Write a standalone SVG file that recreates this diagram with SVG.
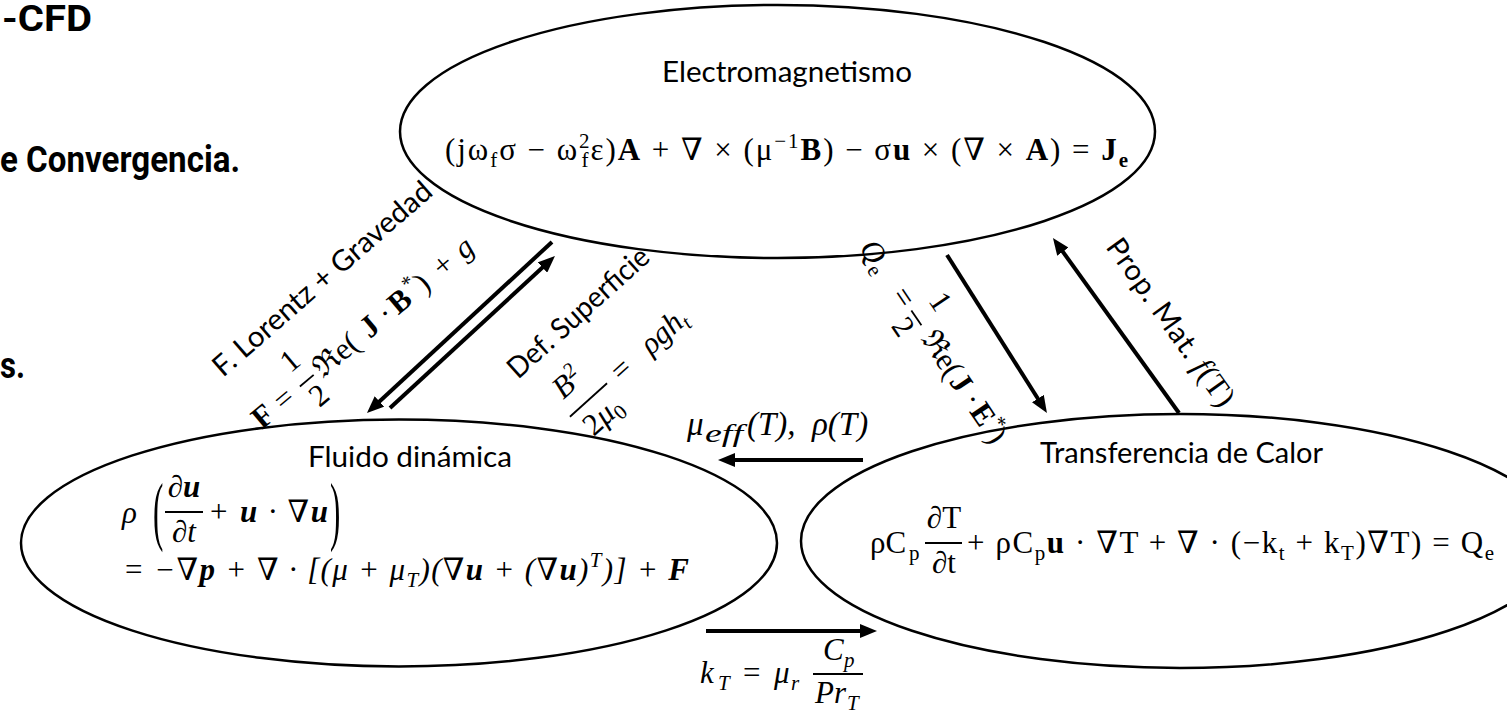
<svg xmlns="http://www.w3.org/2000/svg" width="1507" height="714" viewBox="0 0 1507 714">
<style>
.ell{fill:none;stroke:#000;stroke-width:2.5}
.lbl{font-family:Lato,"Open Sans","Liberation Sans",sans-serif;font-size:29px;fill:#000}
.hd{font-family:"Liberation Sans Narrow","Roboto","Liberation Sans",sans-serif;font-weight:bold;font-size:37px;fill:#000}
.m{font-family:"Liberation Serif","DejaVu Serif",serif;font-size:31px;fill:#000}
.mi{font-style:italic}
.b{font-weight:bold}
.s{font-size:21px}
.bar{stroke:#000;stroke-width:1.8}
.arr{stroke:#000;stroke-width:4;fill:none;marker-end:url(#ah)}
</style>
<defs>
<marker id="ah" viewBox="0 0 17 14" refX="7" refY="7" markerWidth="17" markerHeight="14" markerUnits="userSpaceOnUse" orient="auto"><path d="M0,0L17,7L0,14z" fill="#000"/></marker>
</defs>

<g id="background-text">
<text class="hd" x="2" y="31" textLength="90" lengthAdjust="spacingAndGlyphs">-CFD</text>
<text class="hd" x="0" y="172" textLength="240" lengthAdjust="spacingAndGlyphs">e Convergencia.</text>
<text class="hd" x="0" y="378" textLength="25" lengthAdjust="spacingAndGlyphs">s.</text>
</g>

<g id="electromagnetismo">
<ellipse class="ell" cx="777.5" cy="131.5" rx="377.5" ry="126.5"/>
<text class="lbl" x="662" y="82" textLength="250" lengthAdjust="spacingAndGlyphs">Electromagnetismo</text>
<text class="m" x="445" y="160" textLength="683">(jω<tspan class="s" dy="7">f</tspan><tspan dy="-7">σ − ω</tspan><tspan class="s" dy="-12">2</tspan><tspan class="s" dx="-10" dy="19">f</tspan><tspan dy="-7">ε)</tspan><tspan class="b">A</tspan> + <tspan class="mi">∇</tspan> × (μ<tspan class="s" dy="-12">−1</tspan><tspan class="b" dy="12">B</tspan>) − σ<tspan class="b">u</tspan> × (<tspan class="mi">∇</tspan> × <tspan class="b">A</tspan>) = <tspan class="b">J</tspan><tspan class="b s" dy="7">e</tspan></text>
</g>

<g id="fluido">
<ellipse class="ell" cx="399" cy="543" rx="378" ry="123.5"/>
<text class="lbl" x="308" y="467" textLength="204" lengthAdjust="spacingAndGlyphs">Fluido dinámica</text>
<text class="m mi" x="122" y="523">ρ</text>
<text class="m" transform="translate(153,536) scale(1,2.45)" font-size="38">(</text>
<text class="m mi" x="184" y="497" text-anchor="middle">∂<tspan class="b">u</tspan></text>
<line class="bar" x1="165" y1="512" x2="203" y2="512"/>
<text class="m mi" x="184" y="542" text-anchor="middle">∂t</text>
<text class="m mi" x="208" y="522" textLength="120">+ <tspan class="b">u</tspan> · ∇<tspan class="b">u</tspan></text>
<text class="m" transform="translate(330,536) scale(1,2.45)" font-size="38">)</text>
<text class="m mi" x="123" y="580" textLength="566">= −∇<tspan class="b">p</tspan> + ∇ · [(μ + μ<tspan class="s" dy="7">T</tspan><tspan dy="-7">)(∇</tspan><tspan class="b">u</tspan> + (∇<tspan class="b">u</tspan>)<tspan class="s" dy="-13">T</tspan><tspan dy="13">)] + </tspan><tspan class="b">F</tspan></text>
</g>

<g id="calor">
<ellipse class="ell" cx="1180" cy="541" rx="379" ry="127"/>
<text class="lbl" x="1040" y="463" textLength="283" lengthAdjust="spacingAndGlyphs">Transferencia de Calor</text>
<text class="m" y="553"><tspan x="870">ρC</tspan><tspan class="s" x="909" dy="7">p</tspan></text>
<text class="m" x="944" y="528" text-anchor="middle"><tspan class="mi">∂</tspan>T</text>
<line class="bar" x1="925" y1="543" x2="962" y2="543"/>
<text class="m" x="944" y="573" text-anchor="middle"><tspan class="mi">∂</tspan>t</text>
<text class="m" x="967" y="553" textLength="527">+ ρC<tspan class="s" dy="7">p</tspan><tspan class="b" dy="-7">u</tspan> · <tspan class="mi">∇</tspan>T + <tspan class="mi">∇</tspan> · (−k<tspan class="s" dy="7">t</tspan><tspan dy="-7"> + k</tspan><tspan class="s" dy="7">T</tspan><tspan dy="-7">)</tspan><tspan class="mi">∇</tspan>T) = Q<tspan class="s" dy="7">e</tspan></text>
</g>

<g id="connectors">
<line class="arr" x1="552" y1="242" x2="374.3" y2="406.2"/>
<line class="arr" x1="390" y1="408" x2="547.6" y2="262.8"/>
<line class="arr" x1="947" y1="255" x2="1041.6" y2="404.5"/>
<line class="arr" x1="1179" y1="413" x2="1058.8" y2="246.1"/>
<line class="arr" x1="863" y1="460" x2="728" y2="460"/>
<line class="arr" x1="706" y1="631" x2="867" y2="631"/>
</g>

<g id="label-lorentz">
<text class="lbl" transform="translate(223,378) rotate(-41)" x="0" y="0" textLength="280" lengthAdjust="spacingAndGlyphs">F. Lorentz + Gravedad</text>
<g transform="translate(262,430) rotate(-40)">
<text class="m b" x="0" y="0">F</text>
<text class="m" x="28" y="0">=</text>
<text class="m" x="66" y="-25" text-anchor="middle">1</text>
<line class="bar" x1="57" y1="-9" x2="75" y2="-9"/>
<text class="m" x="66" y="20" text-anchor="middle">2</text>
<text class="m" y="0"><tspan x="80">ℜe(</tspan><tspan x="141" class="b">J</tspan><tspan x="164">·</tspan><tspan x="178" class="b">B</tspan><tspan class="s" x="201" y="-12">*</tspan><tspan x="212" y="0">)</tspan><tspan x="236">+</tspan><tspan x="264" class="mi">g</tspan></text>
</g>
</g>

<g id="label-superficie">
<text class="lbl" transform="translate(518,380) rotate(-42)" x="0" y="0" textLength="180" lengthAdjust="spacingAndGlyphs">Def. Superficie</text>
<g transform="translate(594.5,406.7) rotate(-42)">
<text class="m mi" x="-4" y="-26" text-anchor="middle">B<tspan class="s" dy="-11">2</tspan></text>
<line class="bar" x1="-25" y1="-9" x2="25" y2="-9"/>
<text class="m mi" x="0" y="22" text-anchor="middle"><tspan font-style="normal">2</tspan>μ<tspan class="s" font-style="normal" dy="6">0</tspan></text>
<text class="m" x="36" y="0">=</text>
<text class="m mi" x="76" y="0">ρgh<tspan class="s" dy="6">t</tspan></text>
</g>
</g>

<g id="label-qe">
<g transform="translate(895.5,303) rotate(56)">
<text class="m mi" x="-66" y="0">Q<tspan class="s" font-style="normal" dy="6">e</tspan></text>
<text class="m" x="-9" y="0">=</text>
<text class="m" x="24" y="-28" text-anchor="middle">1</text>
<line class="bar" x1="15" y1="-9" x2="33" y2="-9"/>
<text class="m" x="24" y="17" text-anchor="middle">2</text>
<text class="m" y="0"><tspan x="43">ℜe(</tspan><tspan x="95" class="b">J</tspan><tspan x="118">·</tspan><tspan x="131" class="b">E</tspan><tspan class="s" x="152" y="-12">*</tspan><tspan x="162" y="0">)</tspan></text>
</g>
</g>

<g id="label-prop">
<text class="lbl" transform="translate(1105,247) rotate(54.5)" x="0" y="0" textLength="199">Prop. Mat. <tspan class="m mi">f</tspan><tspan class="m">(T)</tspan></text>
</g>

<g id="label-mueff">
<text class="m mi" y="435" style="font-size:33px"><tspan x="687">μ</tspan><tspan x="705" dy="7" style="font-size:25px" textLength="38" lengthAdjust="spacingAndGlyphs">eff</tspan><tspan x="747" dy="-7">(T),</tspan><tspan x="812">ρ(T)</tspan></text>
</g>

<g id="label-kt">
<text class="m mi" y="683"><tspan x="700">k</tspan><tspan class="s" x="718" dy="7">T</tspan><tspan x="743" dy="-7" font-style="normal">=</tspan><tspan x="774">μ</tspan><tspan class="s" x="791" dy="7">r</tspan></text>
<text class="m mi" y="660"><tspan x="823">C</tspan><tspan class="s" x="844" dy="7">p</tspan></text>
<line class="bar" x1="813" y1="674" x2="863" y2="674"/>
<text class="m mi" y="703"><tspan x="815">P</tspan><tspan x="834">r</tspan><tspan class="s" x="847" dy="7">T</tspan></text>
</g>
</svg>
